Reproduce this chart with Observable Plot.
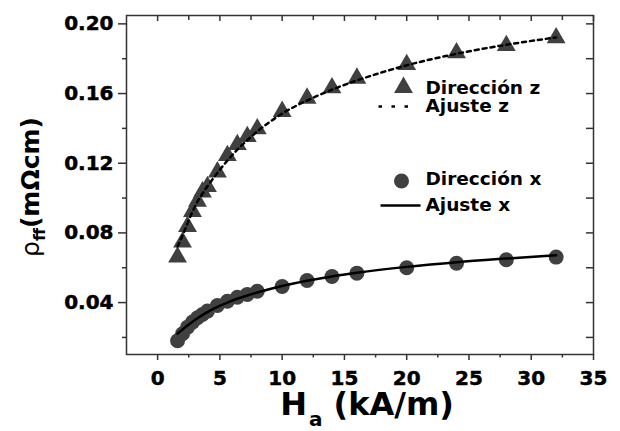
<!DOCTYPE html>
<html><head><meta charset="utf-8">
<script src="https://cdn.jsdelivr.net/npm/d3@7"></script>
<script src="https://cdn.jsdelivr.net/npm/@observablehq/plot@0.6"></script>
<style>
body{margin:0;background:#fff;}
#chart svg text{font-family:'DejaVu Sans',sans-serif;font-weight:bold;}
</style>
</head><body><div id="chart"></div>
<script>
// Measured field values (kA/m)
const fieldH = [1.6,2.0,2.4,2.8,3.2,3.6,4.0,4.8,5.6,6.4,7.2,8.0,10,12,14,16,20,24,28,32];
// Dirección z (triangles)
const rhoZ = [0.0661,0.0747,0.0837,0.0923,0.0982,0.1035,0.1066,0.1150,0.1244,0.1307,0.1353,0.1397,0.1497,0.1573,0.1633,0.1688,0.1766,0.1834,0.1875,0.1920];
// Dirección x (circles)
const rhoX = [0.0181,0.0221,0.0259,0.0288,0.0313,0.0332,0.0351,0.0383,0.0408,0.0431,0.0447,0.0465,0.0492,0.0527,0.0550,0.0569,0.0600,0.0626,0.0646,0.0661];
// Fit curves
const fitH = [1.6,2.0,2.4,2.8,3.2,3.6,4.0,4.8,5.6,6.4,7.2,8.0,10,12,14,16,20,24,28,32];
const fitZ = [0.0722,0.0785,0.0855,0.0922,0.0980,0.1025,0.1068,0.1145,0.1215,0.1278,0.1333,0.1382,0.1485,0.1560,0.1622,0.1675,0.1762,0.1828,0.1880,0.1922];
const fitX = [0.0222,0.0245,0.0268,0.0290,0.0310,0.0328,0.0345,0.0375,0.0400,0.0422,0.0441,0.0458,0.0495,0.0525,0.0550,0.0571,0.0605,0.0632,0.0653,0.0672];
// Ticks
const xTicks = [0,5,10,15,20,25,30,35];
const xMinor = [2.5,7.5,12.5,17.5,22.5,27.5,32.5];
const yTicks = [0.04,0.08,0.12,0.16,0.20];
const yMinor = [0.02,0.06,0.10,0.14,0.18];
const legendLabels = ["Dirección z","Ajuste z","Dirección x","Ajuste x"];
const xTitle = "Ha (kA/m)";
const yTitle = "ρff(mΩcm)";

const ptsZ = fieldH.map((h,i)=>({h, r: rhoZ[i]}));
const ptsX = fieldH.map((h,i)=>({h, r: rhoX[i]}));
const lineZ = fitH.map((h,i)=>({h, r: fitZ[i]}));
const lineX = fitH.map((h,i)=>({h, r: fitX[i]}));

const W = 620, H = 431, mL = 126, mR = 27, mT = 15, mB = 77;
const frameW = W - mL - mR, frameH = H - mT - mB;
const gray = "#404040";
const axisCol = "#333";
const lineSym = (len) => ({draw(ctx){ ctx.moveTo(-len/2,0); ctx.lineTo(len/2,0); }});
const leg = {frameAnchor: "top-left", text: d => d, textAnchor: "start", lineAnchor: "middle", fontSize: 18.5, fontWeight: "bold"};
const tk = {stroke: axisCol, strokeWidth: 1.5};

const chart = Plot.plot({
  width: W, height: H,
  marginLeft: mL, marginRight: mR, marginTop: mT, marginBottom: mB,
  style: {fontFamily: "'DejaVu Sans'", fontSize: "20px", fontWeight: "bold", background: "#fff", color: "#000"},
  x: {domain: [-2.5, 35]},
  y: {domain: [0.0102, 0.2048]},
  marks: [
    Plot.dot(ptsZ, {x: "h", y: "r", symbol: "triangle", r: 7, fill: gray}),
    Plot.dot(ptsX, {x: "h", y: "r", symbol: "circle", r: 7.5, fill: gray}),
    Plot.line(lineZ, {x: "h", y: "r", stroke: "#000", strokeWidth: 2.5, strokeDasharray: "4,4", curve: "monotone-x"}),
    Plot.line(lineX, {x: "h", y: "r", stroke: "#000", strokeWidth: 2.5, curve: "monotone-x"}),
    Plot.frame({stroke: axisCol, strokeWidth: 1.5}),
    // bottom axis (outward)
    Plot.axisX({anchor: "bottom", ticks: xTicks, tickSize: 6, tickPadding: 10, ...tk, label: null}),
    Plot.axisX({anchor: "bottom", ticks: xMinor, tickSize: 3.5, tickFormat: () => "", ...tk, label: null}),
    // top axis (inward ticks)
    Plot.tickX(xTicks, {x: d => d, insetBottom: frameH - 6, ...tk}),
    Plot.tickX(xMinor, {x: d => d, insetBottom: frameH - 5, ...tk}),
    // left axis (outward)
    Plot.axisY({anchor: "left", ticks: yTicks, tickSize: 8, tickPadding: 5, tickFormat: d3.format(".2f"), ...tk, label: null}),
    Plot.axisY({anchor: "left", ticks: yMinor, tickSize: 4, tickFormat: () => "", ...tk, label: null}),
    // right axis (inward ticks)
    Plot.tickY(yTicks, {y: d => d, insetLeft: frameW - 7, ...tk}),
    Plot.tickY(yMinor, {y: d => d, insetLeft: frameW - 7, ...tk}),
    // legend
    Plot.dot([0], {frameAnchor: "top-left", dx: 277, dy: 72, symbol: "triangle", r: 7, fill: gray}),
    Plot.text([legendLabels[0]], {...leg, dx: 299, dy: 73}),
    Plot.dot([0], {frameAnchor: "top-left", dx: 269, dy: 91, symbol: lineSym(34), r: 5, fill: "none", stroke: "#000", strokeWidth: 2.5, strokeDasharray: "3.5,9.5"}),
    Plot.text([legendLabels[1]], {...leg, dx: 299, dy: 91}),
    Plot.dot([0], {frameAnchor: "top-left", dx: 275, dy: 165.5, symbol: "circle", r: 7.5, fill: gray}),
    Plot.text([legendLabels[2]], {...leg, dx: 299, dy: 164}),
    Plot.dot([0], {frameAnchor: "top-left", dx: 274, dy: 190, symbol: lineSym(40), r: 5, fill: "none", stroke: "#000", strokeWidth: 2.5}),
    Plot.text([legendLabels[3]], {...leg, dx: 299, dy: 190}),
    // axis titles
    Plot.text([xTitle], {frameAnchor: "bottom", dx: 7, dy: 50, text: d => d, textAnchor: "middle", lineAnchor: "middle", fontSize: 32, fontWeight: "bold"}),
    Plot.text([yTitle], {frameAnchor: "left", dx: -96, dy: 2, rotate: -90, text: d => d, textAnchor: "middle", lineAnchor: "middle", fontSize: 25, fontWeight: "bold"})
  ]
});
document.getElementById("chart").appendChild(chart);

// heavier tick labels, rich text (subscripts) for the axis titles
const ns = "http://www.w3.org/2000/svg";
chart.querySelectorAll("text").forEach(t => {
  const s = t.textContent;
  if (/^\d+(\.\d+)?$/.test(s.trim())) {
    t.style.fontWeight = "bold";
    t.style.fontSize = "20px";
    t.style.stroke = "#000";
    t.style.strokeWidth = "0.5px";
  } else if (s === xTitle) {
    t.textContent = "";
    const a = document.createElementNS(ns, "tspan"); a.textContent = "H"; t.appendChild(a);
    const b = document.createElementNS(ns, "tspan"); b.textContent = "a"; b.setAttribute("font-size", 20); b.setAttribute("dy", 11); b.setAttribute("dx", 2); t.appendChild(b);
    const c = document.createElementNS(ns, "tspan"); c.textContent = " (kA/m)"; c.setAttribute("dy", -11); t.appendChild(c);
  } else if (s === yTitle) {
    t.textContent = "";
    const a = document.createElementNS(ns, "tspan"); a.textContent = "ρ"; a.setAttribute("font-weight", "normal"); a.style.fontWeight = "normal"; t.appendChild(a);
    const b = document.createElementNS(ns, "tspan"); b.textContent = "ff"; b.setAttribute("font-size", 16); b.setAttribute("dy", 6); t.appendChild(b);
    const c = document.createElementNS(ns, "tspan"); c.textContent = "(mΩcm)"; c.setAttribute("dy", -6); t.appendChild(c);
  }
});
</script>
</body></html>
